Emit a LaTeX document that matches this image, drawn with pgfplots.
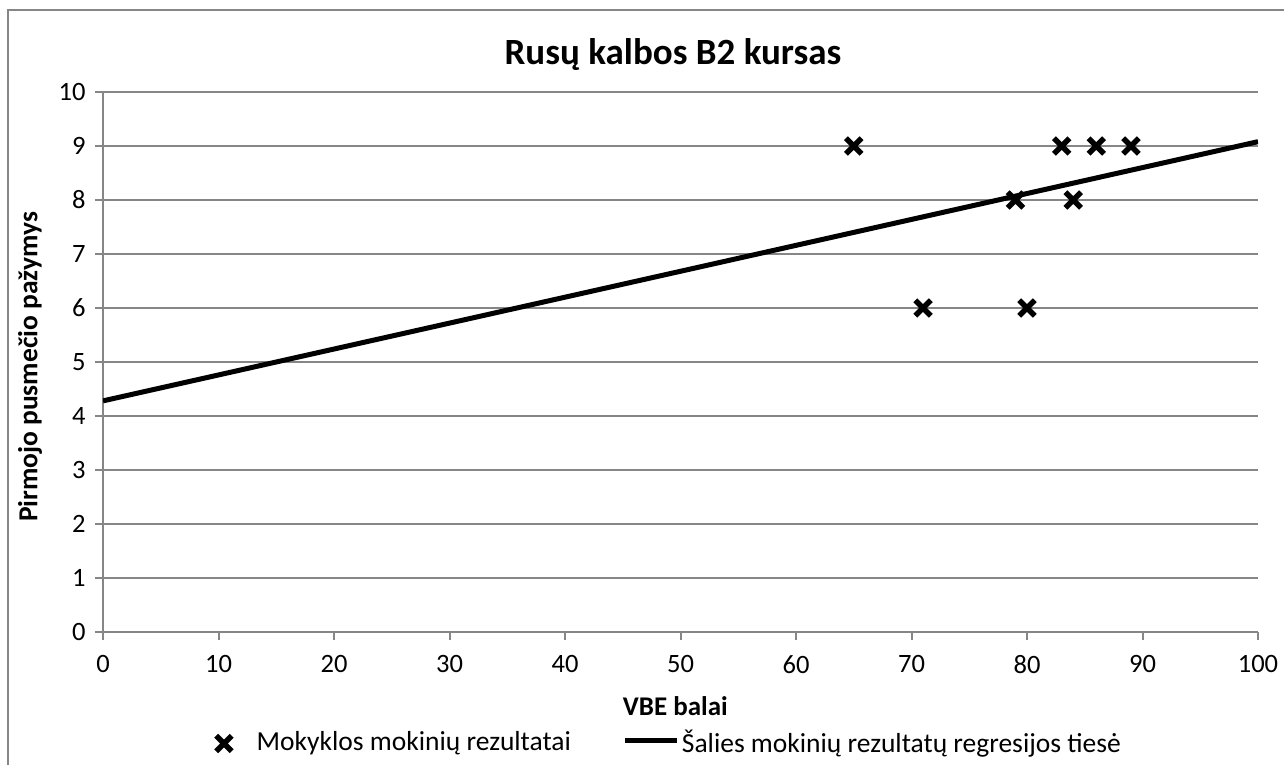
\documentclass[border=0pt]{standalone}
\usepackage{pgfplots}
\pgfplotsset{compat=1.18}
\usepackage{fontspec}
\setmainfont{Carlito}
\definecolor{gridgray}{RGB}{134,134,134}
\begin{document}
\begin{tikzpicture}[x=1pt,y=1pt]
  % page area in px units, axis box lower left at (0,0)
  \path[use as bounding box] (-103,-133) rectangle (1181,632);
  \draw[gridgray,line width=2pt] (-95,-133) -- (-95,622) -- (1181,622);
  \begin{axis}[
      at={(0,0)}, anchor=south west,
      scale only axis,
      width=1155pt, height=540pt,
      xmin=0, xmax=100, ymin=0, ymax=10,
      xtick={0,10,...,100}, ytick={0,1,...,10},
      axis x line*=bottom, axis y line*=left,
      axis line style={gridgray,line width=2pt,-},
      tick style={gridgray,line width=2pt},
      tick align=outside, major tick length=8pt,
      ymajorgrids,
      major grid style={gridgray,line width=2pt},
      /pgf/number format/assume math mode=true,
      tick label style={font=\fontsize{26.5}{30}\selectfont},
      xticklabel style={yshift=-12pt},
      yticklabel style={xshift=-6pt},
      title={Rusų kalbos B2 kursas},
      title style={font=\fontsize{37}{42}\bfseries, at={(axis description cs:0.4935,1.058)}, anchor=center},
      xlabel={VBE balai},
      xlabel style={font=\fontsize{27}{30}\selectfont\bfseries, at={(axis description cs:0.4955,-0.137)}, anchor=center},
      ylabel={Pirmojo pusmečio pažymys},
      ylabel style={font=\fontsize{27.5}{30}\selectfont\bfseries, at={(axis description cs:-0.0632,0.491)}, anchor=center, rotate=0},
      legend columns=2,
      legend style={draw=none, fill=none, inner sep=0pt,
        at={(axis description cs:0.0978,-0.2037)}, anchor=west,
        font=\fontsize{27.5}{30}\selectfont,
        /tikz/every even column/.append style={column sep=50pt}},
      legend cell align=left,
    ]
    \addplot[only marks, mark=x, mark size=11pt, line width=5.5pt, black,
      legend image code/.code={
        \draw[mark repeat=1,mark phase=1,black,yshift=-1.5pt] plot coordinates {(0pt,0)};
        \path (28pt,0);}]
      coordinates {(65,9) (71,6) (79,8) (80,6) (83,9) (84,8) (86,9) (89,9)};
    \addlegendentry{Mokyklos mokinių rezultatai}
    \addplot[black, line width=5pt,
      legend image code/.code={\draw[black,line width=5pt,yshift=2pt] (0pt,0pt) -- (52pt,0pt);}]
      coordinates {(0,4.28) (100,9.08)};
    \addlegendentry{Šalies mokinių rezultatų regresijos tiesė}
  \end{axis}
\end{tikzpicture}
\end{document}
